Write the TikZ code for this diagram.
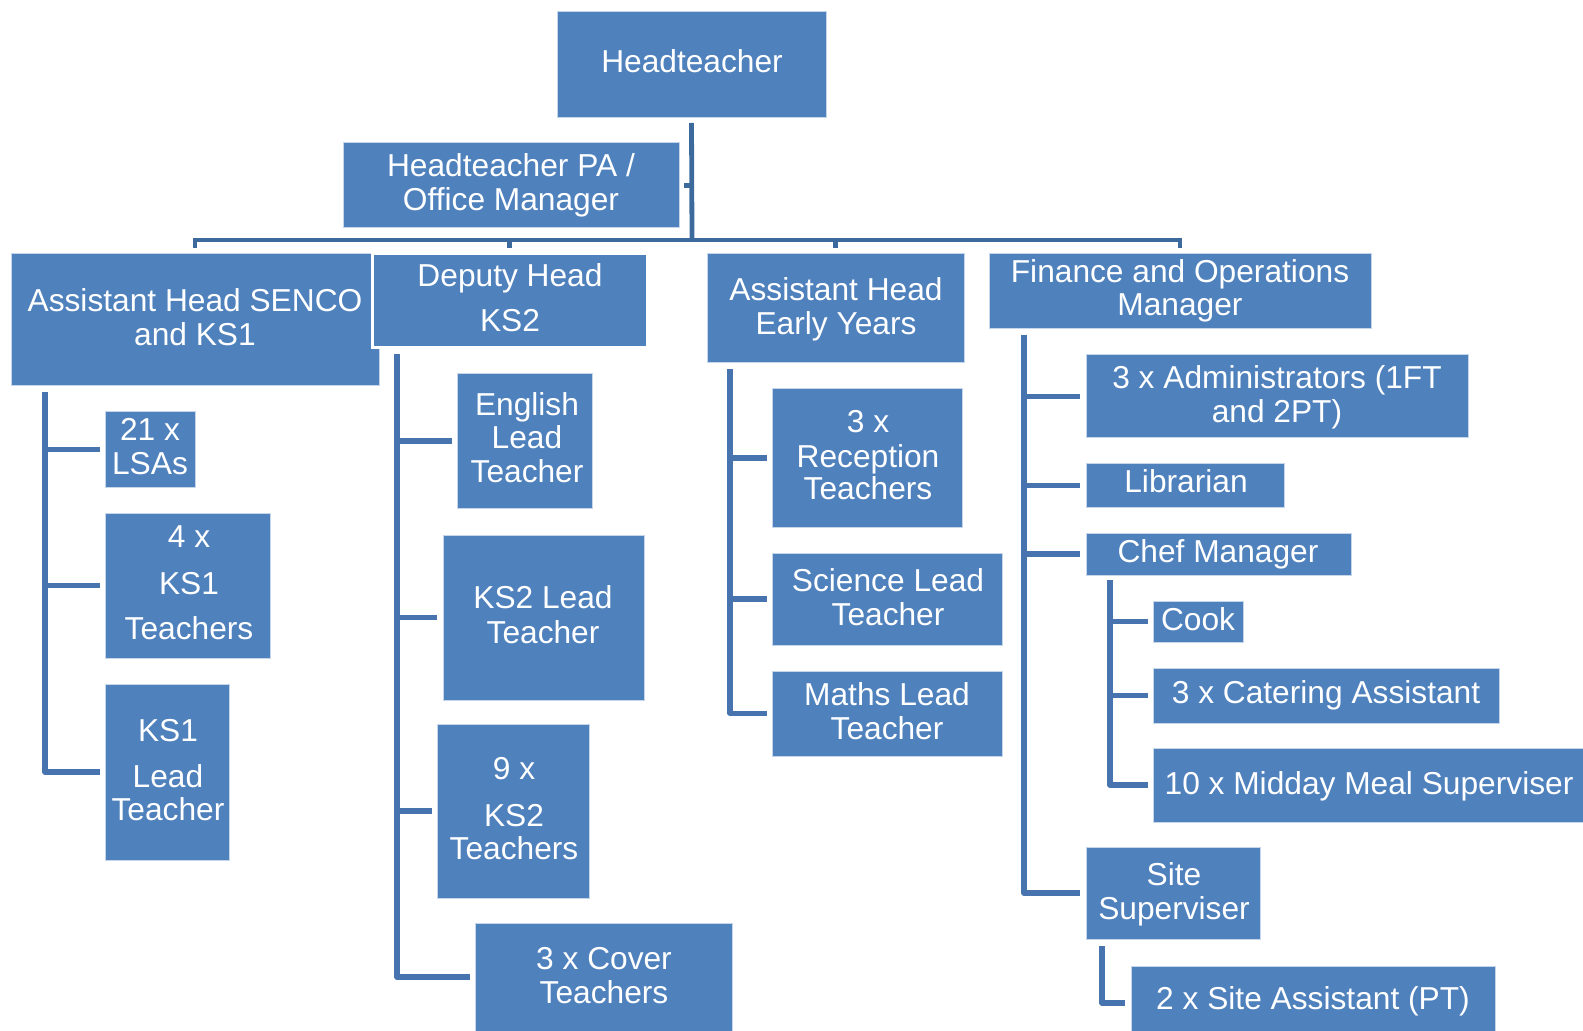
\documentclass[tikz,border=0pt]{standalone}
\usepackage{fontspec}
\setmainfont{Liberation Sans}
\definecolor{boxblue}{HTML}{4F81BD}
\definecolor{linetop}{HTML}{3D6A9D}
\definecolor{lineblue}{HTML}{4774AE}
\definecolor{edgecol}{HTML}{C5D5EA}
\tikzset{
  box/.style={fill=boxblue, draw=edgecol, line width=0.5pt, inner sep=0pt, outer sep=0pt},
  txt/.style={anchor=base, inner sep=0pt, outer sep=0pt, text=white, font=\fontsize{15.85pt}{17pt}\selectfont},
  conn/.style={draw=lineblue, line width=2.6pt, line join=round},
  topconn/.style={draw=linetop, line width=2.4pt, line join=miter},
}
\newcommand\bx[6][]{\node[box,#1,minimum width={(#5-#3)*0.5pt},minimum height={(#6-#4)*0.5pt}] (#2) at ({(#3+#5)/2},{(#4+#6)/2}) {};}
\newcommand\tx[4]{\node[txt] (#1) at (#2,#3) {#4};}
\begin{document}
\begin{tikzpicture}[x=0.5pt,y=-0.5pt]
\useasboundingbox (0,0) rectangle (1583,1031);
\clip (0,0) rectangle (1583,1031);
% ---------- boxes ----------
\bx{head}{557}{12}{826}{118}
\bx{pa}{343}{143}{679}{228}
\bx{senco}{11}{254}{379}{386}
\bx[draw=white,line width=1.5pt]{deputy}{372}{254}{647}{348}
\bx{ey}{707}{254}{964}{363}
\bx{fin}{989}{254}{1371}{329}
\bx{lsas}{105}{412}{195}{487}
\bx{ksonet}{105}{513}{270}{658}
\bx{ksonel}{105}{684}{229}{860}
\bx{eng}{457}{374}{592}{508}
\bx{kstwol}{443}{535}{644}{700}
\bx{kstwot}{437}{724}{589}{898}
\bx{cover}{475}{923}{732}{1031}
\bx{recep}{772}{389}{962}{527}
\bx{sci}{772}{553}{1002}{645}
\bx{maths}{772}{671}{1002}{756}
\bx{admin}{1086}{355}{1468}{438}
\bx{lib}{1086}{464}{1284}{507}
\bx{chef}{1086}{533}{1351}{575}
\bx{cook}{1153}{601}{1243}{642}
\bx{cater}{1153}{668}{1499}{723}
\bx{midday}{1153}{748}{1600}{822}
\bx{site}{1086}{847}{1260}{939}
\bx{siteasst}{1131}{966}{1495}{1040}
% ---------- texts ----------
\tx{t-head}{692}{73}{Headteacher}
\tx{t-pa1}{511}{177}{Headteacher PA /}
\tx{t-pa2}{511}{211}{Office Manager}
\tx{t-senco1}{195}{312}{Assistant Head SENCO}
\tx{t-senco2}{195}{346}{and KS1}
\tx{t-dep1}{510}{287}{Deputy Head}
\tx{t-dep2}{510}{332}{KS2}
\tx{t-ey1}{836}{301}{Assistant Head}
\tx{t-ey2}{836}{335}{Early Years}
\tx{t-fin1}{1180}{283}{Finance and Operations}
\tx{t-fin2}{1180}{316}{Manager}
\tx{t-lsas1}{150}{441}{21 x}
\tx{t-lsas2}{150}{474}{LSAs}
\tx{t-kst1}{189}{547}{4 x}
\tx{t-kst2}{189}{594}{KS1}
\tx{t-kst3}{189}{639}{Teachers}
\tx{t-ksl1}{168}{741}{KS1}
\tx{t-ksl2}{168}{787}{Lead}
\tx{t-ksl3}{168}{820}{Teacher}
\tx{t-eng1}{527}{416}{English}
\tx{t-eng2}{527}{449}{Lead}
\tx{t-eng3}{527}{482}{Teacher}
\tx{t-k2l1}{543}{608}{KS2 Lead}
\tx{t-k2l2}{543}{643}{Teacher}
\tx{t-k2t1}{514}{779}{9 x}
\tx{t-k2t2}{514}{826}{KS2}
\tx{t-k2t3}{514}{859}{Teachers}
\tx{t-cov1}{604}{969}{3 x Cover}
\tx{t-cov2}{604}{1003}{Teachers}
\tx{t-rec1}{868}{433}{3 x}
\tx{t-rec2}{868}{467}{Reception}
\tx{t-rec3}{868}{499}{Teachers}
\tx{t-sci1}{888}{591}{Science Lead}
\tx{t-sci2}{888}{625}{Teacher}
\tx{t-mat1}{887}{705}{Maths Lead}
\tx{t-mat2}{887}{739}{Teacher}
\tx{t-adm1}{1277}{389}{3 x Administrators (1FT}
\tx{t-adm2}{1277}{423}{and 2PT)}
\tx{t-lib}{1186}{493}{Librarian}
\tx{t-chef}{1218}{562}{Chef Manager}
\tx{t-cook}{1198}{630}{Cook}
\tx{t-cat}{1326}{703}{3 x Catering Assistant}
\tx{t-mid}{1369}{794}{10 x Midday Meal Superviser}
\tx{t-site1}{1174}{885}{Site}
\tx{t-site2}{1174}{919}{Superviser}
\tx{t-sa}{1313}{1009}{2 x Site Assistant (PT)}
% ---------- top connectors ----------
\coordinate (bar) at (692,240);
\draw[topconn] ([yshift=-2.5pt]head.south) -- (bar);
\draw[topconn] ([xshift=2.5pt]pa.east) -- (pa.east -| bar);
\draw[topconn] ([yshift=3pt]senco.north) -- (senco.north |- bar) -- (fin.north |- bar) -- ([yshift=3pt]fin.north);
\draw[topconn] (deputy.north |- bar) -- ([yshift=3pt]deputy.north);
\draw[topconn] (ey.north |- bar) -- ([yshift=3pt]ey.north);
% ---------- SENCO branch ----------
\coordinate (sp1) at (45,392);
\draw[conn] (sp1) |- ([xshift=-2.5pt]ksonel.west);
\draw[conn] (sp1 |- lsas.west) -- ([xshift=-2.5pt]lsas.west);
\draw[conn] (sp1 |- ksonet.west) -- ([xshift=-2.5pt]ksonet.west);
% ---------- Deputy branch ----------
\coordinate (sp2) at (397,354);
\draw[conn] (sp2) |- ([xshift=-2.5pt]cover.west);
\draw[conn] (sp2 |- eng.west) -- ([xshift=-2.5pt]eng.west);
\draw[conn] (sp2 |- kstwol.west) -- ([xshift=-3pt]kstwol.west);
\draw[conn] (sp2 |- kstwot.west) -- ([xshift=-2.5pt]kstwot.west);
% ---------- Early years branch ----------
\coordinate (sp3) at (730,369);
\draw[conn] (sp3) |- ([xshift=-2.5pt]maths.west);
\draw[conn] (sp3 |- recep.west) -- ([xshift=-2.5pt]recep.west);
\draw[conn] (sp3 |- sci.west) -- ([xshift=-2.5pt]sci.west);
% ---------- Finance branch ----------
\coordinate (sp4) at (1024,335);
\draw[conn] (sp4) |- ([xshift=-3pt]site.west);
\draw[conn] (sp4 |- admin.west) -- ([xshift=-3pt]admin.west);
\draw[conn] (sp4 |- lib.west) -- ([xshift=-3pt]lib.west);
\draw[conn] (sp4 |- chef.west) -- ([xshift=-3pt]chef.west);
% ---------- Chef branch ----------
\coordinate (sp5) at (1110,580);
\draw[conn] (sp5) |- ([xshift=-2.5pt]midday.west);
\draw[conn] (sp5 |- cook.west) -- ([xshift=-2.5pt]cook.west);
\draw[conn] (sp5 |- cater.west) -- ([xshift=-2.5pt]cater.west);
% ---------- Site branch ----------
\coordinate (sp6) at (1102,946);
\draw[conn] (sp6) |- ([xshift=-3pt]siteasst.west);
\end{tikzpicture}
\end{document}
